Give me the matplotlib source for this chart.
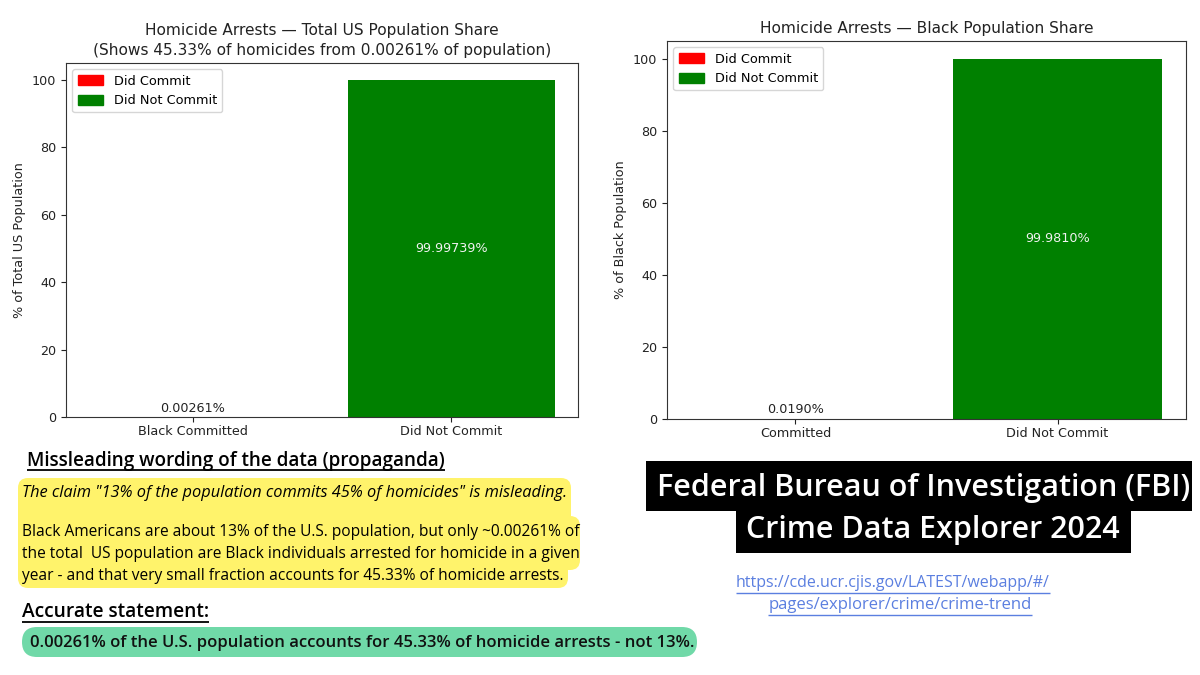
import matplotlib
matplotlib.use("Agg")
import matplotlib.pyplot as plt
from matplotlib.patches import FancyBboxPatch, Rectangle, Patch

W, H = 1200, 675

left_labels = ["Black Committed", "Did Not Commit"]
left_values = [0.00261, 99.99739]
left_text = ["0.00261%", "99.99739%"]
right_labels = ["Committed", "Did Not Commit"]
right_values = [0.0190, 99.9810]
right_text = ["0.0190%", "99.9810%"]


def make_axes(fig, x0, y0, x1, y1):
    return fig.add_axes([x0 / W, 1 - y1 / H, (x1 - x0) / W, (y1 - y0) / H])


def bar_panel(ax, labels, values, texts, title, ylabel):
    bars = ax.bar(labels, values, color=["red", "green"])
    ax.set_title(title, fontsize=11.1, pad=6, color="#222222", linespacing=1.4)
    ax.set_ylabel(ylabel, fontsize=9.2, color="#222222")
    ax.tick_params(labelsize=9.2, colors="#222222")
    ax.tick_params(axis="x", pad=2.2)
    for s in ax.spines.values():
        s.set_color("#333333")
    ax.text(0, values[0] + 0.7, texts[0], ha="center", va="bottom", fontsize=9.2, color="#222222")
    ax.text(1, values[1] / 2, texts[1], ha="center", va="center", fontsize=9.2, color="#f2f2f2")
    handles = [Patch(color="red", label="Did Commit"), Patch(color="green", label="Did Not Commit")]
    ax.legend(handles=handles, loc="upper left", fontsize=9.3, handleheight=0.8)
    return bars


fig = plt.figure(figsize=(12, 6.75), dpi=100, facecolor="white")

ax1 = make_axes(fig, 66, 63, 578, 417)
bar_panel(ax1, left_labels, left_values, left_text,
          "Homicide Arrests — Total US Population Share\n(Shows 45.33% of homicides from 0.00261% of population)",
          "% of Total US Population")

ax2 = make_axes(fig, 667, 41, 1186, 419)
bar_panel(ax2, right_labels, right_values, right_text,
          "Homicide Arrests — Black Population Share", "% of Black Population")

# overlay in pixel coords for the text panels
ov = fig.add_axes([0, 0, 1, 1], zorder=5)
ov.set_xlim(0, W)
ov.set_ylim(H, 0)
ov.axis("off")
ov.patch.set_alpha(0)


def pill(x0, y0, x1, y1, color, r=10):
    ov.add_patch(FancyBboxPatch((x0 + r, y0 + r), x1 - x0 - 2 * r, y1 - y0 - 2 * r,
                                boxstyle=f"round,pad={r},rounding_size={r}", fc=color, ec="none"))


yellow = "#fff36b"
pill(18, 478, 571, 524, yellow)
pill(18, 516, 580, 570, yellow)
pill(18, 556, 568, 588, yellow)
ov.add_patch(Rectangle((18, 490), 100, 86, fc=yellow, ec="none"))
ov.add_patch(Rectangle((540, 500), 31, 70, fc=yellow, ec="none"))
pill(22, 627, 697, 657, "#70d9a8", r=15)

FONT = "Open Sans"


def under(x0, x1, y, color="black", lw=1.3):
    ov.plot([x0, x1], [y, y], color=color, lw=lw, solid_capstyle="butt")


ov.text(27, 461, "Missleading wording of the data (propaganda)", fontsize=13.6, fontweight="semibold",
        family=FONT, va="center", color="black")
under(27, 445, 470)
ov.text(22, 493, 'The claim "13% of the population commits 45% of homicides" is misleading.',
        fontsize=11.8, style="italic", family=FONT, va="center", color="black")
ov.text(22, 532, "Black Americans are about 13% of the U.S. population, but only ~0.00261% of",
        fontsize=11.2, family=FONT, va="center", color="black")
ov.text(22, 554, "the total  US population are Black individuals arrested for homicide in a given",
        fontsize=11.2, family=FONT, va="center", color="black")
ov.text(22, 576, "year - and that very small fraction accounts for 45.33% of homicide arrests.",
        fontsize=11.2, family=FONT, va="center", color="black")
ov.text(22, 612, "Accurate statement:", fontsize=13.8, fontweight="semibold", family=FONT,
        va="center", color="black")
under(22, 209, 622)
ov.text(30, 643, "0.00261% of the U.S. population accounts for 45.33% of homicide arrests - not 13%.",
        fontsize=12, fontweight="semibold", family=FONT, va="center", color="#111111")

ov.add_patch(Rectangle((646, 461), 546, 50, fc="black", ec="none"))
ov.add_patch(Rectangle((736, 511), 395, 42, fc="black", ec="none"))
ov.text(924, 488, "Federal Bureau of Investigation (FBI)", fontsize=22, fontweight="semibold",
        family=FONT, ha="center", va="center", color="white")
ov.text(933, 530, "Crime Data Explorer 2024", fontsize=22, fontweight="semibold",
        family=FONT, ha="center", va="center", color="white")

link = "#5b7fe0"
ov.text(893, 583, "https://cde.ucr.cjis.gov/LATEST/webapp/#/", fontsize=11.5, family=FONT,
        ha="center", va="center", color=link)
under(736, 1050, 593, link, 1)
ov.text(900, 605, "pages/explorer/crime/crime-trend", fontsize=12, family=FONT,
        ha="center", va="center", color=link)
under(768, 1032, 615, link, 1)

fig.savefig("out.png", dpi=100)
